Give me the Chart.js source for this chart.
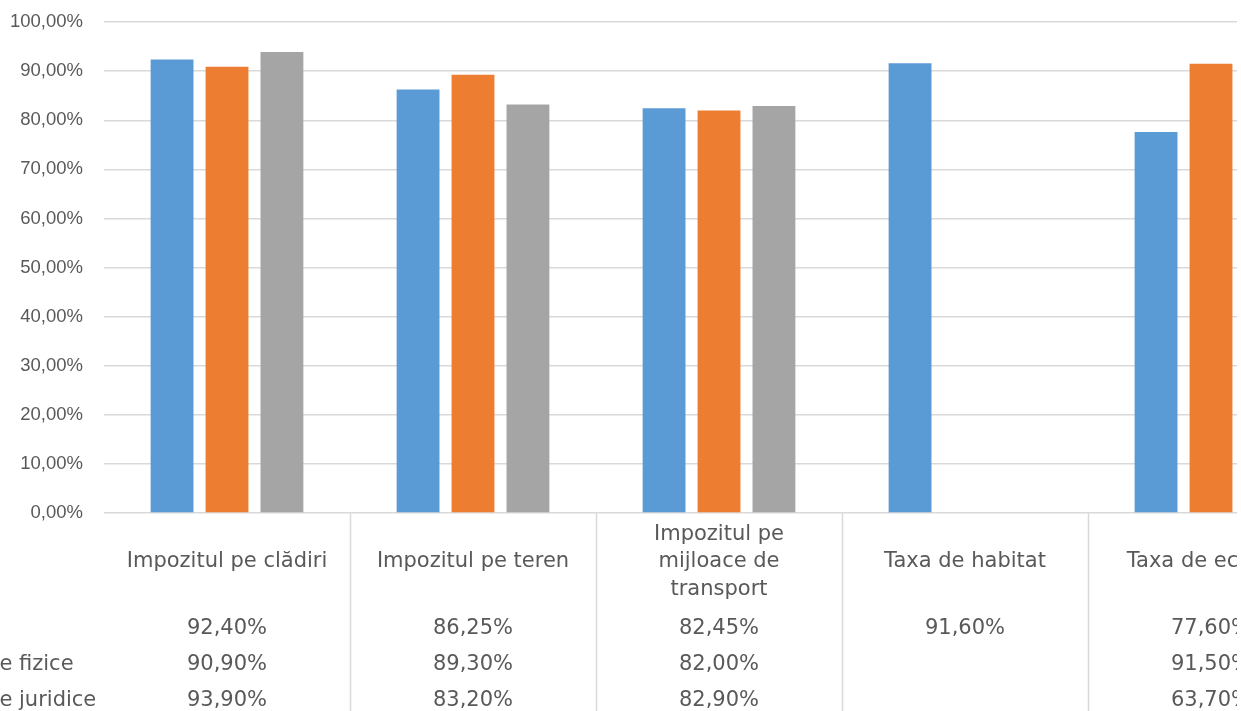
<!DOCTYPE html>
<html>
<head>
<meta charset="utf-8">
<script src="https://cdn.jsdelivr.net/npm/chart.js@4.4.0/dist/chart.umd.min.js"></script>
<style>
  html, body { margin: 0; padding: 0; background: #fff; overflow: hidden; }
  #wrap { position: absolute; left: 0; top: 0; width: 1237px; height: 711px; overflow: hidden; }
  #chart { position: absolute; left: -100px; top: 0; }
</style>
</head>
<body>
<div id="wrap"><canvas id="chart" width="1440" height="711"></canvas></div>
<script>
const categories = [
  'Impozitul pe clădiri',
  'Impozitul pe teren',
  ['Impozitul pe', 'mijloace de', 'transport'],
  'Taxa de habitat',
  'Taxa de ecarisaj'
];
const seriesNames = ['Total', 'Persoane fizice', 'Persoane juridice'];
const totalValues = [92.40, 86.25, 82.45, 91.60, 77.60];
const fiziceValues = [90.90, 89.30, 82.00, null, 91.50];
const juridiceValues = [93.90, 83.20, 82.90, null, 63.70];
const colors = ['#5B9BD5', '#ED7D31', '#A5A5A5'];

const textColor = '#595959';
const tableFont = '21px "DejaVu Sans"';

const fmt = v => v.toFixed(2).replace('.', ',') + '%';

// draws the Excel style data table under the plot
const dataTable = {
  id: 'dataTable',
  afterDraw(chart) {
    const ctx = chart.ctx;
    const x = chart.scales.x;
    const area = chart.chartArea;
    const allSeries = [totalValues, fiziceValues, juridiceValues];
    ctx.save();

    ctx.strokeStyle = '#d9d9d9';
    ctx.lineWidth = 1.5;
    for (let i = 1; i < categories.length; i++) {
      const px = Math.round((x.getPixelForValue(i - 1) + x.getPixelForValue(i)) / 2) + 0.5;
      ctx.beginPath();
      ctx.moveTo(px, area.bottom);
      ctx.lineTo(px, chart.height);
      ctx.stroke();
    }

    ctx.font = tableFont;
    ctx.fillStyle = textColor;
    ctx.textBaseline = 'middle';
    ctx.textAlign = 'center';
    const headerY = area.bottom + 49;
    categories.forEach((c, i) => {
      const lines = Array.isArray(c) ? c : [c];
      const cx = x.getPixelForValue(i);
      lines.forEach((l, j) => {
        ctx.fillText(l, cx, headerY + (j - (lines.length - 1) / 2) * 27.5);
      });
    });

    const rowY = [area.bottom + 116, area.bottom + 152, area.bottom + 188];
    allSeries.forEach((vals, r) => {
      ctx.textAlign = 'left';
      ctx.fillText(seriesNames[r], area.left - 188, rowY[r]);
      ctx.textAlign = 'center';
      vals.forEach((v, i) => {
        if (v !== null) ctx.fillText(fmt(v), x.getPixelForValue(i), rowY[r]);
      });
    });
    ctx.restore();
  }
};

new Chart(document.getElementById('chart'), {
  type: 'bar',
  data: {
    labels: categories,
    datasets: [
      { label: seriesNames[0], data: totalValues, backgroundColor: colors[0] },
      { label: seriesNames[1], data: fiziceValues, backgroundColor: colors[1] },
      { label: seriesNames[2], data: juridiceValues, backgroundColor: colors[2] }
    ]
  },
  options: {
    responsive: false,
    animation: false,
    events: [],
    categoryPercentage: 0.67,
    barPercentage: 0.78,
    layout: { padding: { top: 10, bottom: 198, right: 6, left: 0 } },
    plugins: { legend: { display: false }, tooltip: { enabled: false } },
    scales: {
      x: { display: false },
      y: {
        min: 0,
        max: 100,
        afterFit(scale) { scale.width = 204; },
        border: { display: false },
        grid: { color: '#d9d9d9', lineWidth: 1.5, drawTicks: true, tickLength: 10, tickColor: 'rgba(0,0,0,0)' },
        ticks: {
          stepSize: 10,
          padding: 11,
          color: textColor,
          font: { family: '"Liberation Sans"', size: 18.5 },
          callback: v => fmt(v)
        }
      }
    }
  },
  plugins: [dataTable]
});
</script>
</body>
</html>
